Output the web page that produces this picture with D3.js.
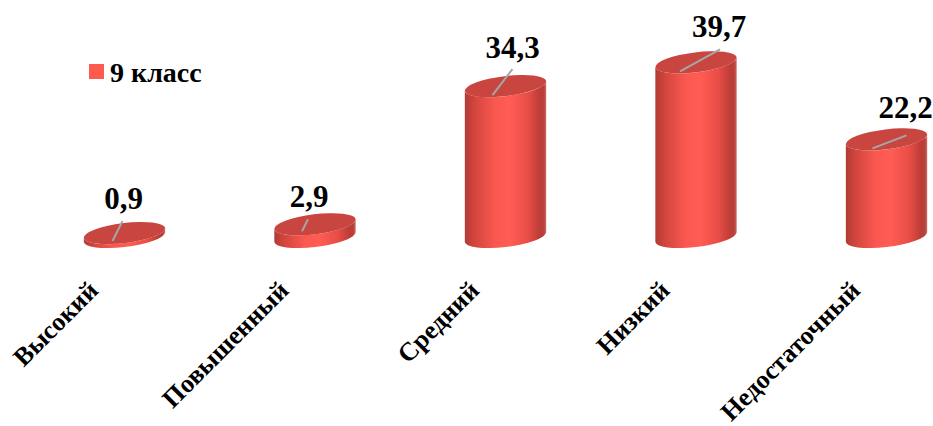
<!DOCTYPE html>
<html>
<head>
<meta charset="utf-8">
<script src="https://cdn.jsdelivr.net/npm/d3@7"></script>
<style>
  html, body { margin: 0; padding: 0; background: #ffffff; }
  svg { display: block; }
</style>
</head>
<body>
<svg id="chart" width="933" height="426"></svg>
<script>
// ---- data ----
const categories = ["Высокий", "Повышенный", "Средний", "Низкий", "Недостаточный"];
const values = [0.9, 2.9, 34.3, 39.7, 22.2];
const valueLabels = ["0,9", "2,9", "34,3", "39,7", "22,2"];
const seriesName = "9 класс";

// ---- layout (manual label placement, as in the source) ----
const labelOffsets = [[-1, -24], [-6, -17], [7, -28], [23, -25], [19, -21]];
const leaderFrom = [[-12, 8], [-13, 7], [-13, 9], [-16, 9], [-14, 9]];
const leaderTo = [[-2, -12], [-7, -5], [7, -17], [24, -13], [20, -4]];

const FONT = '"Liberation Serif"';
const svg = d3.select("#chart");

const x = d3.scaleBand().domain(categories).range([29.25, 981.75])
  .paddingInner(0.57).paddingOuter(0.285);
const y = d3.scaleLinear().domain([0, 40]).range([237, 61]);

const rx = x.bandwidth() / 2;
const ry = 10;
const phiDeg = -7;
const phi = phiDeg * Math.PI / 180;

const defs = svg.append("defs");
const grad = defs.append("linearGradient").attr("id", "body")
  .attr("x1", "0").attr("x2", "1").attr("y1", "0").attr("y2", "0");
[[0, "#b23a34"], [0.12, "#d2453e"], [0.38, "#fb5950"], [0.55, "#ff5d54"],
 [0.78, "#e84d46"], [0.92, "#bd3d37"], [0.97, "#b8403a"], [1, "#cf6a64"]]
  .forEach(([o, c]) => grad.append("stop").attr("offset", o).attr("stop-color", c));

function pt(cx, cy, t) {
  const ex = rx * Math.cos(t), ey = ry * Math.sin(t);
  return [cx + ex * Math.cos(phi) - ey * Math.sin(phi),
          cy + ex * Math.sin(phi) + ey * Math.cos(phi)];
}
const t0 = Math.atan(-ry * Math.tan(phi) / rx);

const data = categories.map((c, i) => ({ c, v: values[i], lab: valueLabels[i], i }));
const cxOf = d => x(d.c) + x.bandwidth() / 2;

const bars = svg.append("g").selectAll("g").data(data).join("g");

bars.append("path")
  .attr("fill", "url(#body)")
  .attr("d", d => {
    const cx = cxOf(d);
    const cyB = y(0), cyT = y(d.v);
    const rT = pt(cx, cyT, t0), lT = pt(cx, cyT, t0 + Math.PI);
    const rB = pt(cx, cyB, t0), lB = pt(cx, cyB, t0 + Math.PI);
    return `M${lT[0]},${lT[1]} L${lB[0]},${lB[1]} ` +
      `A${rx},${ry} ${phiDeg} 0 0 ${rB[0]},${rB[1]} ` +
      `L${rT[0]},${rT[1]} ` +
      `A${rx},${ry} ${phiDeg} 0 1 ${lT[0]},${lT[1]} Z`;
  });

bars.append("ellipse")
  .attr("cx", cxOf)
  .attr("cy", d => y(d.v))
  .attr("rx", rx).attr("ry", ry)
  .attr("transform", d => `rotate(${phiDeg},${cxOf(d)},${y(d.v)})`)
  .attr("fill", "#c8463f");

bars.append("line")
  .attr("x1", d => cxOf(d) + leaderFrom[d.i][0])
  .attr("y1", d => y(d.v) + leaderFrom[d.i][1])
  .attr("x2", d => cxOf(d) + leaderTo[d.i][0])
  .attr("y2", d => y(d.v) + leaderTo[d.i][1])
  .attr("stroke", "#a6a6a6").attr("stroke-width", 2);

bars.append("text")
  .attr("x", d => cxOf(d) + labelOffsets[d.i][0])
  .attr("y", d => y(d.v) + labelOffsets[d.i][1])
  .attr("text-anchor", "middle")
  .style("font-family", FONT).style("font-weight", "bold").style("font-size", "31px")
  .attr("fill", "#000")
  .text(d => d.lab);

const axis = svg.append("g")
  .attr("transform", "translate(0,292)")
  .call(d3.axisBottom(x).tickSize(0).tickPadding(0));
axis.select(".domain").remove();
axis.selectAll("text")
  .attr("x", 0).attr("y", 0).attr("dy", 0)
  .attr("transform", "translate(-25,0) rotate(-45)")
  .attr("text-anchor", "end")
  .style("font-family", FONT).style("font-weight", "bold").style("font-size", "26px")
  .attr("fill", "#000");

const lg = svg.append("g").attr("transform", "translate(89,64)");
lg.append("rect").attr("width", 15).attr("height", 15).attr("fill", "#ff5a50");
lg.append("text").attr("x", 21).attr("y", 18)
  .style("font-family", FONT).style("font-weight", "bold").style("font-size", "28px")
  .attr("fill", "#000").text(seriesName);
</script>
</body>
</html>
